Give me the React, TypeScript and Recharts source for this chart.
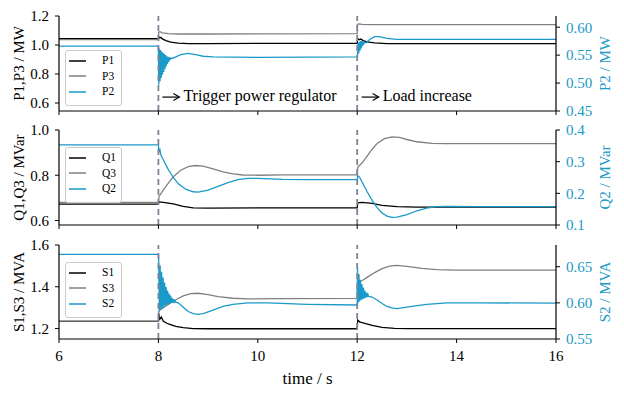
import { LineChart, Line, XAxis, YAxis, ReferenceLine, ReferenceDot, Legend } from "recharts";

const CYAN = "#1a9ac8";
const GRAY = "#808080";
const DASH = "#7d8499";
const FONT = "'Liberation Serif', 'Times New Roman', serif";

const timeTicks = [6, 8, 10, 12, 14, 16];
const eventTimes = [8, 12];

// [time s, value]
const P1: [number, number][] = [
  [6, 1.044], [8.0, 1.044], [8.01, 1.056], [8.03, 1.048], [8.05, 1.053], [8.08, 1.042],
  [8.15, 1.03], [8.25, 1.02], [8.4, 1.013], [8.6, 1.01], [9.0, 1.01], [12.0, 1.012],
  [12.01, 1.045], [12.04, 1.036], [12.07, 1.041], [12.12, 1.03], [12.2, 1.022],
  [12.35, 1.014], [12.6, 1.01], [16, 1.01],
];
const P3: [number, number][] = [
  [6, 1.037], [8.0, 1.037], [8.005, 1.088], [8.03, 1.092], [8.08, 1.084], [8.2, 1.078],
  [8.4, 1.076], [9.0, 1.076], [12.0, 1.078], [12.005, 1.142], [12.03, 1.145],
  [12.1, 1.142], [12.3, 1.141], [16, 1.141],
];
const P2: [number, number][] = [
  [6, 0.566], [8.0, 0.566],
  [8.008, 0.497], [8.02, 0.562], [8.033, 0.503], [8.045, 0.559], [8.058, 0.509], [8.07, 0.556],
  [8.083, 0.515], [8.095, 0.554], [8.108, 0.52], [8.12, 0.552], [8.133, 0.525], [8.145, 0.55],
  [8.158, 0.53], [8.17, 0.548], [8.183, 0.534], [8.195, 0.547], [8.208, 0.538], [8.22, 0.546],
  [8.233, 0.541], [8.245, 0.545],
  [8.27, 0.544], [8.35, 0.547], [8.45, 0.551], [8.6, 0.553], [8.75, 0.551], [8.9, 0.548],
  [9.1, 0.547], [10, 0.546], [12.0, 0.547],
  [12.006, 0.548], [12.019, 0.572], [12.031, 0.553], [12.044, 0.574], [12.056, 0.558],
  [12.069, 0.575], [12.081, 0.562], [12.094, 0.575], [12.106, 0.566], [12.119, 0.574],
  [12.131, 0.569], [12.144, 0.573],
  [12.18, 0.572], [12.25, 0.578], [12.35, 0.583], [12.45, 0.583], [12.6, 0.58],
  [12.8, 0.578], [13.2, 0.578], [16, 0.578],
];

const Q1: [number, number][] = [
  [6, 0.672], [8.0, 0.672], [8.01, 0.682], [8.1, 0.68], [8.3, 0.673], [8.5, 0.662],
  [8.7, 0.656], [9.0, 0.655], [12.0, 0.656], [12.01, 0.678], [12.1, 0.68], [12.3, 0.676],
  [12.5, 0.667], [12.8, 0.661], [13.2, 0.659], [16, 0.659],
];
const Q3: [number, number][] = [
  [6, 0.68], [8.0, 0.68], [8.01, 0.705], [8.1, 0.735], [8.2, 0.765], [8.3, 0.793],
  [8.45, 0.822], [8.6, 0.838], [8.75, 0.843], [8.9, 0.84], [9.1, 0.828], [9.3, 0.815],
  [9.5, 0.806], [9.7, 0.801], [10, 0.8], [10.5, 0.802], [12.0, 0.802], [12.01, 0.835],
  [12.1, 0.855], [12.2, 0.885], [12.3, 0.915], [12.4, 0.94], [12.55, 0.962], [12.7, 0.97],
  [12.85, 0.967], [13.0, 0.958], [13.2, 0.948], [13.5, 0.941], [13.8, 0.94], [16, 0.94],
];
const Q2: [number, number][] = [
  [6, 0.353], [8.0, 0.353], [8.01, 0.33], [8.03, 0.338], [8.05, 0.322], [8.1, 0.305],
  [8.2, 0.275], [8.3, 0.25], [8.4, 0.23], [8.55, 0.213], [8.7, 0.205], [8.8, 0.204],
  [9.0, 0.21], [9.2, 0.222], [9.4, 0.234], [9.6, 0.243], [9.8, 0.247], [10.0, 0.247],
  [10.5, 0.244], [11, 0.243], [12.0, 0.243], [12.01, 0.256], [12.05, 0.25], [12.1, 0.235],
  [12.2, 0.205], [12.3, 0.178], [12.4, 0.155], [12.5, 0.138], [12.6, 0.128], [12.7, 0.124],
  [12.8, 0.125], [13.0, 0.133], [13.2, 0.145], [13.4, 0.153], [13.6, 0.158], [13.8, 0.159],
  [14.5, 0.158], [16, 0.158],
];

const S1: [number, number][] = [
  [6, 1.234], [8.0, 1.234], [8.01, 1.27], [8.03, 1.245], [8.06, 1.255], [8.1, 1.235],
  [8.2, 1.222], [8.35, 1.21], [8.5, 1.204], [8.7, 1.2], [9.0, 1.199], [12.0, 1.199],
  [12.01, 1.24], [12.05, 1.232], [12.15, 1.225], [12.3, 1.215], [12.5, 1.206],
  [12.75, 1.201], [13.0, 1.2], [16, 1.2],
];
const S3: [number, number][] = [
  [6, 1.236], [8.0, 1.236], [8.01, 1.285], [8.1, 1.3], [8.2, 1.315], [8.35, 1.338],
  [8.5, 1.356], [8.65, 1.367], [8.8, 1.369], [9.0, 1.362], [9.2, 1.353], [9.5, 1.345],
  [9.8, 1.342], [10.5, 1.343], [12.0, 1.344], [12.01, 1.42], [12.1, 1.43], [12.2, 1.445],
  [12.35, 1.468], [12.5, 1.487], [12.65, 1.499], [12.8, 1.502], [13.0, 1.498], [13.3, 1.488],
  [13.6, 1.482], [14.0, 1.48], [16, 1.48],
];
const S2: [number, number][] = [
  [6, 0.667], [8.0, 0.667],
  [8.005, 0.662], [8.02, 0.588], [8.035, 0.652], [8.05, 0.59], [8.065, 0.643], [8.08, 0.592],
  [8.095, 0.635], [8.11, 0.594], [8.125, 0.628], [8.14, 0.596], [8.155, 0.622], [8.17, 0.597],
  [8.185, 0.617], [8.2, 0.598], [8.215, 0.613], [8.23, 0.599], [8.245, 0.61], [8.26, 0.6],
  [8.275, 0.607], [8.29, 0.6], [8.305, 0.605], [8.32, 0.601], [8.335, 0.603], [8.35, 0.601],
  [8.4, 0.6], [8.5, 0.594], [8.6, 0.588], [8.7, 0.585], [8.8, 0.584], [8.9, 0.585],
  [9.1, 0.59], [9.3, 0.595], [9.5, 0.598], [9.8, 0.6], [10.2, 0.6], [11, 0.598], [12.0, 0.597],
  [12.005, 0.65], [12.02, 0.6], [12.035, 0.64], [12.05, 0.602], [12.065, 0.632], [12.08, 0.604],
  [12.095, 0.626], [12.11, 0.605], [12.125, 0.621], [12.14, 0.606], [12.155, 0.617],
  [12.17, 0.607], [12.185, 0.614], [12.2, 0.608], [12.215, 0.612], [12.23, 0.609],
  [12.3, 0.608], [12.4, 0.604], [12.5, 0.599], [12.6, 0.595], [12.7, 0.593], [12.8, 0.592],
  [12.9, 0.593], [13.1, 0.595], [13.4, 0.598], [13.8, 0.6], [14.5, 0.6], [16, 0.5995],
];

const notes = [
  { t: 8.08, y: 0.641, text: "Trigger power regulator" },
  { t: 12.09, y: 0.641, text: "Load increase" },
];

const toRows = (pts: [number, number][]) => pts.map(([t, v]) => ({ t, v }));

const makeLegend = (order: string[]) => ({ payload }: any) => {
  const items = [...(payload || [])].sort((a: any, b: any) => order.indexOf(a.value) - order.indexOf(b.value));
  return (
    <div
      style={{
        width: 57,
        height: 56,
        boxSizing: "border-box",
        border: "1px solid #cccccc",
        borderRadius: 3,
        background: "rgba(255,255,255,0.85)",
        paddingTop: 2,
        fontFamily: FONT,
        fontSize: 11.5,
      }}
    >
      {items.map((e: any) => (
        <div key={e.value} style={{ display: "flex", alignItems: "center", height: 15.5 }}>
          <svg width={34} height={4} style={{ marginLeft: 2 }}>
            <line x1={1} y1={2} x2={18} y2={2} stroke={e.color} strokeWidth={1.5} />
          </svg>
          <span style={{ lineHeight: 1 }}>{e.value}</span>
        </div>
      ))}
    </div>
  );
};

const arrowNote = (text: string) => (props: any) => {
  const { cx, cy } = props;
  return (
    <g>
      <line x1={cx} y1={cy} x2={cx + 17} y2={cy} stroke="#000" strokeWidth={1.2} />
      <path d={`M${cx + 11},${cy - 3.5} L${cx + 17},${cy} L${cx + 11},${cy + 3.5}`} fill="none" stroke="#000" strokeWidth={1.2} />
      <text x={cx + 21} y={cy + 4} fontSize={16} fill="#000">
        {text}
      </text>
    </g>
  );
};

type Series = { name: string; pts: [number, number][]; color: string; axis: "left" | "right" };

type PanelProps = {
  top: number;
  height: number;
  xHeight: number;
  showX: boolean;
  leftLabel: string;
  rightLabel: string;
  leftDomain: [number, number];
  leftTicks: number[];
  rightDomain: [number, number];
  rightTicks: number[];
  rightDigits: number;
  legendTop: number;
  series: Series[];
  withNotes?: boolean;
};

const Panel = (p: PanelProps) => {
  const Leg = makeLegend(p.series.map((s) => s.name));
  return (
    <div style={{ position: "absolute", left: 0, top: p.top }}>
      <LineChart width={624} height={p.height} margin={{ top: 16, right: 0, bottom: 0, left: 0 }}>
        <XAxis
          xAxisId="top"
          orientation="top"
          type="number"
          domain={[6, 16]}
          height={0}
          tick={false}
          tickLine={false}
          axisLine={{ stroke: "#000", strokeWidth: 1.2 }}
        />
        <XAxis
          dataKey="t"
          type="number"
          domain={[6, 16]}
          ticks={timeTicks}
          allowDataOverflow
          height={p.xHeight}
          tickSize={4}
          tickMargin={7}
          tickFormatter={p.showX ? (v: number) => String(v) : () => ""}
          tick={{ fill: "#000", fontSize: 15 }}
          axisLine={{ stroke: "#000", strokeWidth: 1.2 }}
          tickLine={{ stroke: "#000" }}
          label={
            p.showX
              ? { value: "time / s", position: "insideBottom", offset: 14, style: { fontSize: 17, fill: "#000" } }
              : undefined
          }
        />
        <YAxis
          yAxisId="left"
          width={59}
          domain={p.leftDomain}
          ticks={p.leftTicks}
          allowDataOverflow
          tickSize={4}
          tickMargin={6}
          tickFormatter={(v: number) => v.toFixed(1)}
          tick={{ fill: "#000", fontSize: 15 }}
          axisLine={{ stroke: "#000", strokeWidth: 1.2 }}
          tickLine={{ stroke: "#000" }}
          label={{ value: p.leftLabel, angle: -90, position: "center", dx: -11, style: { fontSize: 15, fill: "#000", textAnchor: "middle" } }}
        />
        <YAxis
          yAxisId="right"
          orientation="right"
          width={68}
          domain={p.rightDomain}
          ticks={p.rightTicks}
          allowDataOverflow
          tickSize={4}
          tickMargin={6}
          tickFormatter={(v: number) => v.toFixed(p.rightDigits)}
          tick={{ fill: CYAN, fontSize: 15 }}
          axisLine={{ stroke: "#000", strokeWidth: 1.2 }}
          tickLine={{ stroke: "#000" }}
          label={{ value: p.rightLabel, angle: -90, position: "center", dx: 15, style: { fontSize: 15, fill: CYAN, textAnchor: "middle" } }}
        />
        {p.series.map((s) => (
          <Line
            key={s.name}
            name={s.name}
            data={toRows(s.pts)}
            dataKey="v"
            yAxisId={s.axis}
            type="linear"
            stroke={s.color}
            strokeWidth={1.3}
            dot={false}
            activeDot={false}
            isAnimationActive={false}
          />
        ))}
        {eventTimes.map((t) => (
          <ReferenceLine key={t} x={t} yAxisId="left" stroke={DASH} strokeWidth={1.8} strokeDasharray="6 4" />
        ))}
        {p.withNotes &&
          notes.map((n) => (
            <ReferenceDot key={n.text} x={n.t} y={n.y} yAxisId="left" r={0} shape={arrowNote(n.text)} />
          ))}
        <Legend
          layout="vertical"
          align="center"
          verticalAlign="middle"
          wrapperStyle={{ left: 65, top: p.legendTop, width: 57, height: 56 }}
          content={<Leg />}
        />
      </LineChart>
    </div>
  );
};

export default function App() {
  return (
    <div className="chart" style={{ position: "absolute", left: 0, top: 0, width: 624, height: 398, background: "#fff", fontFamily: FONT }}>
      <style>{`.chart svg text, .chart svg tspan { font-family: "Liberation Serif", "Times New Roman", serif !important; }`}</style>
      <Panel
        top={0}
        height={120}
        xHeight={9}
        showX={false}
        leftLabel="P1,P3 / MW"
        rightLabel="P2 / MW"
        leftDomain={[0.545, 1.2]}
        leftTicks={[0.6, 0.8, 1.0, 1.2]}
        rightDomain={[0.45, 0.62]}
        rightTicks={[0.45, 0.5, 0.55, 0.6]}
        rightDigits={2}
        legendTop={50}
        withNotes
        series={[
          { name: "P1", pts: P1, color: "#000", axis: "left" },
          { name: "P3", pts: P3, color: GRAY, axis: "left" },
          { name: "P2", pts: P2, color: CYAN, axis: "right" },
        ]}
      />
      <Panel
        top={114}
        height={120}
        xHeight={9}
        showX={false}
        leftLabel="Q1,Q3 / MVar"
        rightLabel="Q2 / MVar"
        leftDomain={[0.58, 1.0]}
        leftTicks={[0.6, 0.8, 1.0]}
        rightDomain={[0.1, 0.4]}
        rightTicks={[0.1, 0.2, 0.3, 0.4]}
        rightDigits={1}
        legendTop={33}
        series={[
          { name: "Q1", pts: Q1, color: "#000", axis: "left" },
          { name: "Q3", pts: Q3, color: GRAY, axis: "left" },
          { name: "Q2", pts: Q2, color: CYAN, axis: "right" },
        ]}
      />
      <Panel
        top={229}
        height={169}
        xHeight={59}
        showX
        leftLabel="S1,S3 / MVA"
        rightLabel="S2 / MVA"
        leftDomain={[1.15, 1.6]}
        leftTicks={[1.2, 1.4, 1.6]}
        rightDomain={[0.55, 0.68]}
        rightTicks={[0.55, 0.6, 0.65]}
        rightDigits={2}
        legendTop={33}
        series={[
          { name: "S1", pts: S1, color: "#000", axis: "left" },
          { name: "S3", pts: S3, color: GRAY, axis: "left" },
          { name: "S2", pts: S2, color: CYAN, axis: "right" },
        ]}
      />
    </div>
  );
}
